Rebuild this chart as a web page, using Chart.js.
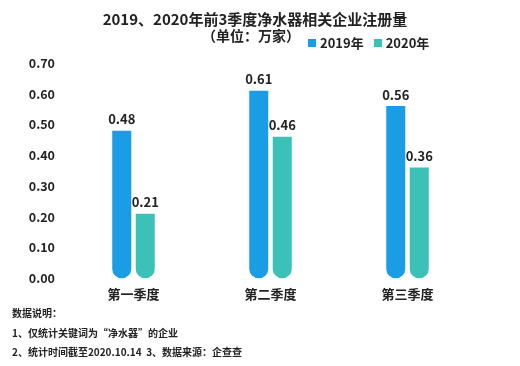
<!DOCTYPE html>
<html>
<head>
<meta charset="utf-8">
<script src="https://cdn.jsdelivr.net/npm/chart.js@4/dist/chart.umd.min.js"></script>
<style>
    html, body { margin: 0; padding: 0; background: #fff; }
    body { width: 520px; height: 366px; position: relative; overflow: hidden;
        font-family: "Noto Sans CJK SC", "Noto Sans", sans-serif; color: #222; font-weight: bold; }
    #wrap { position: absolute; left: 0; top: 0; width: 520px; height: 366px; }
    .title { position: absolute; left: 0; width: 510px; text-align: center; white-space: nowrap; }
    #t1 { top: 9px; font-size: 15px; line-height: 20px; }
    #t2 { top: 26px; font-size: 14px; line-height: 18px; left: -4px; }
    #legend { position: absolute; left: 308px; top: 34px; font-size: 13px; line-height: 17px; white-space: nowrap; }
    #legend span.box { display: inline-block; width: 8px; height: 8px; margin-right: 4px; vertical-align: 1px; }
    #legend span.item { margin-right: 10px; }
    #notes { position: absolute; left: 12px; top: 303px; font-size: 10px; line-height: 19.5px; }
</style>
</head>
<body>
<div id="wrap"><canvas id="chart" width="520" height="366"></canvas></div>
<div class="title" id="t1">2019、2020年前3季度净水器相关企业注册量</div>
<div class="title" id="t2">（单位：万家）</div>
<div id="legend"></div>
<div id="notes"></div>
<script>
const quarters = ['第一季度', '第二季度', '第三季度'];
const seriesNames = ['2019年', '2020年'];
const values2019 = [0.48, 0.61, 0.56];
const values2020 = [0.21, 0.46, 0.36];
const colors = ['#1b9de6', '#3cc1b8'];
const notes = [
    '数据说明：',
    '1、仅统计关键词为“净水器”的企业',
    '2、统计时间截至2020.10.14&nbsp;&nbsp;3、数据来源：企查查',
];

const fontFamily = '"Noto Sans CJK SC", "Noto Sans", sans-serif';

document.getElementById('legend').innerHTML = seriesNames
    .map((name, i) => `<span class="item"><span class="box" style="background:${colors[i]}"></span>${name}</span>`)
    .join('');
document.getElementById('notes').innerHTML = notes.map((line) => `<div>${line}</div>`).join('');

const valueLabels = {
    id: 'valueLabels',
    afterDatasetsDraw(chart) {
        const ctx = chart.ctx;
        ctx.save();
        ctx.font = `bold 13px ${fontFamily}`;
        ctx.fillStyle = '#222';
        ctx.textAlign = 'center';
        ctx.textBaseline = 'bottom';
        chart.data.datasets.forEach((dataset, i) => {
            chart.getDatasetMeta(i).data.forEach((bar, j) => {
                ctx.fillText(dataset.data[j].toFixed(2), bar.x, bar.y - 5);
            });
        });
        ctx.restore();
    },
};

const barStyle = {
    borderSkipped: false,
    borderRadius: { topLeft: 0, topRight: 0, bottomLeft: 10, bottomRight: 10 },
    categoryPercentage: 0.343,
    barPercentage: 0.81,
};

new Chart(document.getElementById('chart'), {
    type: 'bar',
    data: {
        labels: quarters,
        datasets: [
            { label: seriesNames[0], data: values2019, backgroundColor: colors[0], ...barStyle },
            { label: seriesNames[1], data: values2020, backgroundColor: colors[1], ...barStyle },
        ],
    },
    options: {
        responsive: false,
        animation: false,
        layout: {
            padding: { left: 0, right: 44, top: 63, bottom: 56 },
        },
        plugins: {
            legend: { display: false },
            tooltip: { enabled: false },
        },
        scales: {
            x: {
                grid: { display: false, drawTicks: false },
                border: { display: false },
                ticks: {
                    color: '#222',
                    padding: 8,
                    font: { family: fontFamily, size: 13, weight: 'bold' },
                },
            },
            y: {
                min: 0,
                max: 0.7,
                afterFit: (scale) => { scale.width = 65; },
                grid: { display: false, drawTicks: false },
                border: { display: false },
                ticks: {
                    stepSize: 0.1,
                    color: '#222',
                    padding: 10,
                    font: { family: fontFamily, size: 12.5, weight: 'bold' },
                    callback: (value) => Number(value).toFixed(2),
                },
            },
        },
    },
    plugins: [valueLabels],
});
</script>
</body>
</html>
